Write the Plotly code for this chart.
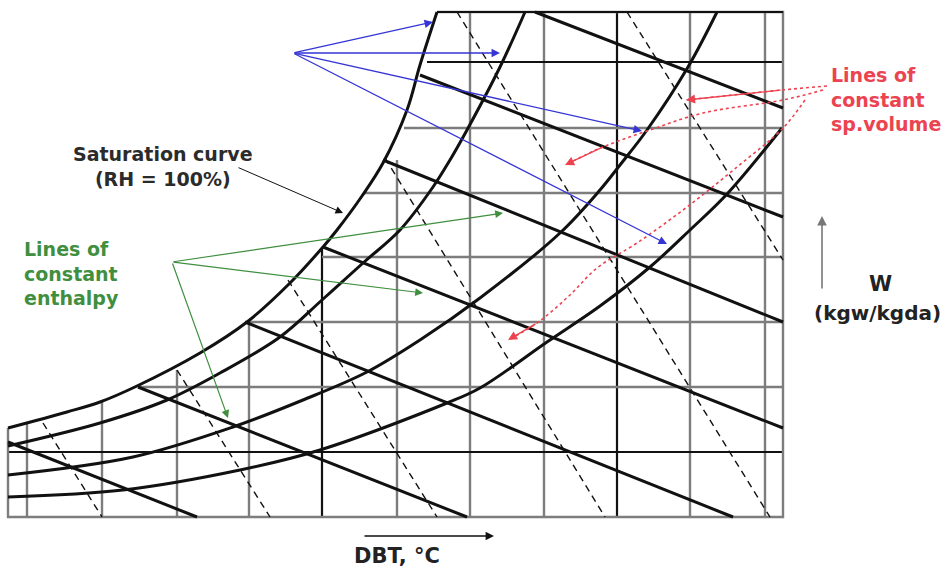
import plotly.graph_objects as go

# schematic psychrometric chart, coordinates in chart units (x = DBT, y = W, y grows downward)

# saturation curve (RH = 100%) and lower RH curves
sat_x = [8, 67, 100, 137, 200, 247, 290, 323, 337, 362, 383, 407, 420, 437]
sat_y = [428, 412, 402, 386, 353, 322, 283, 247, 230, 196, 163, 110, 65, 12]
rh2_x = [8, 100, 167, 220, 280, 322, 363, 400, 433, 450, 467, 500, 525]
rh2_y = [446, 423, 400, 373, 337, 300, 263, 230, 187, 160, 130, 67, 12]
rh3_x = [8, 133, 233, 303, 367, 420, 480, 560, 600, 620, 647, 688, 717]
rh3_y = [475, 457, 427, 400, 372, 340, 298, 233, 190, 165, 130, 67, 12]
rh4_x = [8, 123, 240, 320, 447, 480, 547, 600, 650, 690, 728, 782]
rh4_y = [497, 490, 470, 450, 403, 388, 342, 306, 267, 230, 193, 128]

# constant DBT lines (x, top end) and constant W lines (y, left end)
dbt_x = [27, 102, 177, 249, 322, 397, 470, 544, 617, 690, 765]
dbt_top = [424, 402, 370, 320, 248, 160, 12, 12, 12, 12, 12]
w_y = [62, 128, 193, 257, 322, 387, 452]
w_left = [427, 404, 365, 322, 247, 140, 8]
dbt_major = [322, 617]
w_major = [62, 452]

# chart frame
frame_x = [437, 783, 783, 8, 8]
frame_y = [12, 12, 517, 517, 428]

# constant enthalpy lines (start, end)
h_x0 = [8, 138, 245, 323, 383, 420, 535]
h_y0 = [442, 387, 322, 247, 160, 75, 12]
h_x1 = [197, 467, 733, 783, 783, 783, 783]
h_y1 = [517, 517, 517, 428, 322, 217, 108]

# constant specific volume lines (dashed)
v_x0 = [43, 177, 288, 385, 457, 627]
v_y0 = [423, 370, 280, 158, 12, 12]
v_x1 = [102, 270, 437, 605, 770, 783]
v_y1 = [517, 517, 517, 517, 517, 260]

# callout arrows
blue_from = (293, 53)
blue_to = [(433, 22), (500, 53), (642, 131), (667, 244)]
green_from = (172, 262)
green_to = [(503, 213), (423, 293), (228, 418)]
sat_from = (237, 167)
sat_to = (343, 213)
red_paths = [
    [(827, 86), (782, 90), (686, 100)],
    [(823, 90), (783, 100), (703, 113), (650, 130), (603, 147), (565, 165)],
    [(805, 100), (783, 128), (737, 167), (687, 207), (637, 243), (597, 268),
     (570, 295), (537, 323), (508, 340)],
]

BLACK = "#111111"
GRAY = "#7d7d7d"
BLUE = "#3535d6"
GREEN = "#3f8f3f"
RED = "#ec4350"
FONT = "DejaVu Sans"

fig = go.Figure()


def seg_trace(xs, ys, color, width, dash="solid", shape="linear"):
    fig.add_trace(go.Scatter(x=xs, y=ys, mode="lines", hoverinfo="skip",
                             showlegend=False,
                             line=dict(color=color, width=width, dash=dash,
                                       shape=shape, smoothing=1.0)))


# grid
for x, top in zip(dbt_x, dbt_top):
    seg_trace([x, x], [top, 517], BLACK if x in dbt_major else GRAY,
              2.2 if x in dbt_major else 2.4)
for y, left in zip(w_y, w_left):
    seg_trace([left, 783], [y, y], BLACK if y in w_major else GRAY,
              2.2 if y in w_major else 2.4)
seg_trace(frame_x, frame_y, GRAY, 2.4)
seg_trace([437, 783], [12, 12], BLACK, 2.2)

# specific volume lines
for x0, y0, x1, y1 in zip(v_x0, v_y0, v_x1, v_y1):
    seg_trace([x0, x1], [y0, y1], BLACK, 1.4, dash="7px,5px")

# enthalpy lines
for x0, y0, x1, y1 in zip(h_x0, h_y0, h_x1, h_y1):
    seg_trace([x0, x1], [y0, y1], BLACK, 3)

# RH curves
for xs, ys in [(sat_x, sat_y), (rh2_x, rh2_y), (rh3_x, rh3_y), (rh4_x, rh4_y)]:
    seg_trace(xs, ys, BLACK, 3, shape="spline")

# red dotted callouts
for p in red_paths:
    seg_trace([q[0] for q in p], [q[1] for q in p], RED, 1.6, dash="dot", shape="spline")

ann = []


def arrow(head, tail, color, width, size=1.0):
    ann.append(dict(x=head[0], y=head[1], ax=tail[0], ay=tail[1],
                    xref="x", yref="y", axref="x", ayref="y", text="",
                    showarrow=True, arrowhead=2, arrowsize=size,
                    arrowwidth=width, arrowcolor=color, standoff=0))


for t in blue_to:
    arrow(t, blue_from, BLUE, 1.3, 1.3)
for t in green_to:
    arrow(t, green_from, GREEN, 1.2, 1.3)
arrow(sat_to, sat_from, BLACK, 1.0, 1.5)
for p in red_paths:
    arrow(p[-1], p[-2], RED, 1.4, 1.3)
arrow((822, 216), (822, 290), "#777777", 1.6, 1.2)
arrow((494, 536), (363, 536), BLACK, 1.4, 1.2)


def label(x, y, text, color, size, align="center", xanchor="center"):
    ann.append(dict(x=x, y=y, xref="x", yref="y", text=text, showarrow=False,
                    align=align, xanchor=xanchor, yanchor="middle",
                    font=dict(family=FONT, size=size, color=color, weight="bold")))


label(163, 166, "Saturation curve<br>(RH = 100%)", "#2b2b2b", 19)
label(22, 273, "Lines of<br>constant<br>enthalpy", GREEN, 19, align="left", xanchor="left")
label(829, 99, "Lines of<br>constant<br>sp.volume", RED, 19, align="left", xanchor="left")
label(880, 284, "W", "#222222", 21)
label(877, 313, "(kgw/kgda)", "#222222", 20)
label(397, 556, "DBT, °C", "#222222", 21)

fig.update_layout(
    width=951, height=573,
    margin=dict(l=0, r=0, t=0, b=0),
    paper_bgcolor="white", plot_bgcolor="white",
    xaxis=dict(range=[0, 951], visible=False, fixedrange=True),
    yaxis=dict(range=[573, 0], visible=False, fixedrange=True),
    annotations=ann,
)

# drop the default 8px page margin so the figure sits at the window origin
fig.write_html("out.html", config={"displayModeBar": False},
               post_script="document.body.style.margin='0px';")
